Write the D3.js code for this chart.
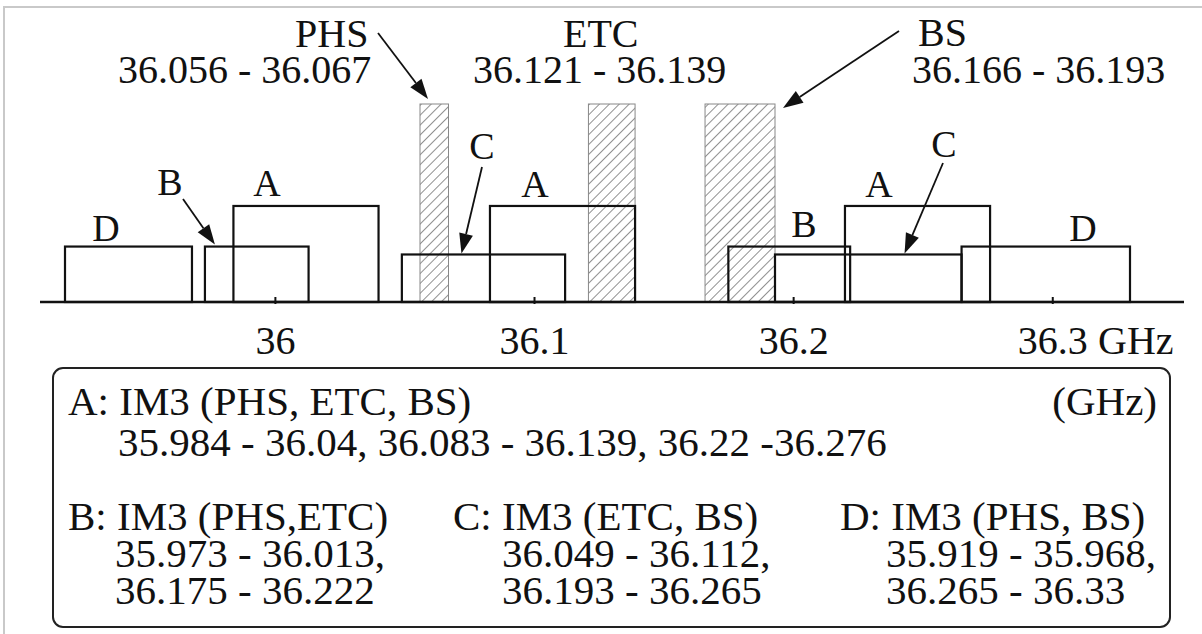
<!DOCTYPE html>
<html>
<head>
<meta charset="utf-8">
<script src="https://cdn.jsdelivr.net/npm/d3@7"></script>
<style>
  html, body { margin: 0; padding: 0; background: #fff; }
  svg { display: block; }
</style>
</head>
<body>
<svg id="chart" width="1202" height="634"></svg>
<script>
// Carrier bands (GHz)
const signalNames = ["PHS", "ETC", "BS"];
const signalLow = [36.056, 36.121, 36.166];
const signalHigh = [36.067, 36.139, 36.193];
const carrierLevel = 100; // relative level of the carriers

// Third-order intermodulation products
const imKeys = ["A", "B", "C", "D"];
const imSources = ["PHS, ETC, BS", "PHS,ETC", "ETC, BS", "PHS, BS"];
const imLevels = [48.5, 28, 24, 28]; // relative level of each product family

const productKey = ["A", "A", "A", "B", "B", "C", "C", "D", "D"];
const productLow = [35.984, 36.083, 36.22, 35.973, 36.175, 36.049, 36.193, 35.919, 36.265];
const productHigh = [36.04, 36.139, 36.276, 36.013, 36.222, 36.112, 36.265, 35.968, 36.33];
const productDash = [" - ", " - ", " -", " - ", " - ", " - ", " - ", " - ", " - "];

// Frequency axis
const tickValues = [36, 36.1, 36.2, 36.3];
const tickLabels = ["36", "36.1", "36.2", "36.3"];
const axisUnit = "GHz";

const FONT = "'Liberation Serif', 'Tinos', 'Times New Roman', 'DejaVu Serif', serif";

const svg = d3.select("#chart")
  .style("font-family", FONT);

const x = d3.scaleLinear()
  .domain([d3.min(productLow), d3.max(productHigh)])
  .range([65, 1130]);
const y = d3.scaleLinear()
  .domain([0, carrierLevel])
  .range([302, 104]);

const levelOf = k => imLevels[imKeys.indexOf(k)];

function label(parent, xp, yp, str, size, anchor) {
  return parent.append("text")
    .attr("x", xp).attr("y", yp)
    .attr("text-anchor", anchor || "start")
    .style("font-family", FONT)
    .style("font-size", size + "px")
    .style("fill", "#111")
    .text(str);
}

// light page frame
svg.append("path")
  .attr("d", "M4,634V7H1202")
  .attr("fill", "none")
  .attr("stroke", "#c9c9c9")
  .attr("stroke-width", 2);

// hatch for carrier bands
const defs = svg.append("defs");
const pat = defs.append("pattern")
  .attr("id", "hatch")
  .attr("patternUnits", "userSpaceOnUse")
  .attr("width", 7)
  .attr("height", 7)
  .attr("patternTransform", "rotate(45)");
pat.append("line")
  .attr("x1", 0).attr("y1", 0).attr("x2", 0).attr("y2", 7)
  .attr("stroke", "#333").attr("stroke-width", 1.1);

// carrier bands
svg.append("g").selectAll("rect")
  .data(signalNames.map((n, i) => ({ n, lo: signalLow[i], hi: signalHigh[i] })))
  .join("rect")
  .attr("x", d => x(d.lo))
  .attr("y", y(carrierLevel))
  .attr("width", d => x(d.hi) - x(d.lo))
  .attr("height", y(0) - y(carrierLevel))
  .attr("fill", "url(#hatch)")
  .attr("stroke", "#888")
  .attr("stroke-width", 1);

// IM3 product bands
svg.append("g").selectAll("rect")
  .data(productKey.map((k, i) => ({ k, lo: productLow[i], hi: productHigh[i] })))
  .join("rect")
  .attr("x", d => x(d.lo))
  .attr("y", d => y(levelOf(d.k)))
  .attr("width", d => x(d.hi) - x(d.lo))
  .attr("height", d => y(0) - y(levelOf(d.k)))
  .attr("fill", "none")
  .attr("stroke", "#111")
  .attr("stroke-width", 2.2);

// baseline
svg.append("line")
  .attr("x1", 40).attr("x2", 1184)
  .attr("y1", y(0)).attr("y2", y(0))
  .attr("stroke", "#111")
  .attr("stroke-width", 2.5);

// axis ticks and labels
const axis = svg.append("g")
  .attr("transform", `translate(0,${y(0)})`)
  .call(d3.axisBottom(x)
    .tickValues(tickValues)
    .tickFormat((d, i) => tickLabels[i])
    .tickSizeInner(-5)
    .tickSizeOuter(0)
    .tickPadding(24));
axis.select(".domain").remove();
axis.attr("font-family", null).attr("font-size", null);
axis.selectAll(".tick line").attr("y1", 2).attr("stroke", "#111").attr("stroke-width", 2);
axis.selectAll(".tick text")
  .style("font-family", FONT)
  .style("font-size", "40px")
  .style("fill", "#111");
label(svg, 1098, 354, axisUnit, 40);

// carrier captions
const captionLayout = [
  { nameX: 295, nameY: 47, rangeX: 118, rangeY: 83 },
  { nameX: 563, nameY: 47, rangeX: 473, rangeY: 83 },
  { nameX: 918, nameY: 46, rangeX: 912, rangeY: 83 }
];
signalNames.forEach((n, i) => {
  const c = captionLayout[i];
  label(svg, c.nameX, c.nameY, n, 40);
  label(svg, c.rangeX, c.rangeY, `${signalLow[i]} - ${signalHigh[i]}`, 40);
});

// letter tags on product bands
const tagLayout = [
  { t: "D", x: 106, y: 241 },
  { t: "B", x: 170, y: 195 },
  { t: "A", x: 267, y: 196 },
  { t: "C", x: 482, y: 159 },
  { t: "A", x: 535, y: 197 },
  { t: "B", x: 804, y: 237 },
  { t: "A", x: 879, y: 197 },
  { t: "C", x: 944, y: 157 },
  { t: "D", x: 1083, y: 241 }
];
const tg = svg.append("g");
tagLayout.forEach(d => label(tg, d.x, d.y, d.t, 38, "middle"));

// arrows: tail point to a tip touching the band
const arrows = [
  { tail: [378, 33],  tip: [x(signalLow[0]) + 8, y(carrierLevel) - 5] },
  { tail: [899, 31],  tip: [x(signalHigh[2]) + 8, y(carrierLevel) + 4] },
  { tail: [183, 199], tip: [x(productLow[3]) + 10, y(levelOf("B")) - 2] },
  { tail: [482, 167], tip: [x(36.072), y(levelOf("C")) - 1] },
  { tail: [943, 163], tip: [x(36.243), y(levelOf("C")) - 1] }
];
const headLen = 20, headHalf = 7;
const ag = svg.append("g");
arrows.forEach(a => {
  const [x0, y0] = a.tail, [x1, y1] = a.tip;
  const len = Math.hypot(x1 - x0, y1 - y0);
  const ux = (x1 - x0) / len, uy = (y1 - y0) / len;
  const bx = x1 - ux * headLen, by = y1 - uy * headLen;
  ag.append("line")
    .attr("x1", x0).attr("y1", y0).attr("x2", bx).attr("y2", by)
    .attr("stroke", "#111").attr("stroke-width", 1.8);
  ag.append("path")
    .attr("d", `M${x1},${y1}L${bx - uy * headHalf},${by + ux * headHalf}L${bx + uy * headHalf},${by - ux * headHalf}Z`)
    .attr("fill", "#111");
});

// legend box
svg.append("rect")
  .attr("x", 53).attr("y", 368)
  .attr("width", 1117).attr("height", 259)
  .attr("rx", 10).attr("ry", 10)
  .attr("fill", "none")
  .attr("stroke", "#222")
  .attr("stroke-width", 2);

const rangeText = i => `${productLow[i]}${productDash[i]}${productHigh[i]}`;
const idxOf = k => productKey.map((p, i) => p === k ? i : -1).filter(i => i >= 0);
const lg = svg.append("g");

// family A spans the full width
label(lg, 68, 415, `${imKeys[0]}: IM3 (${imSources[0]})`, 41);
label(lg, 118, 456, idxOf("A").map(rangeText).join(", "), 41);
label(lg, 1157, 415, `(${axisUnit})`, 41, "end");

// families B, C, D in columns
const colTitleX = [68, 453, 840];
const colRangeX = [115, 502, 886];
imKeys.slice(1).forEach((k, c) => {
  const fam = imKeys.indexOf(k);
  label(lg, colTitleX[c], 530, `${k}: IM3 (${imSources[fam]})`, 41);
  const idx = idxOf(k);
  label(lg, colRangeX[c], 567, rangeText(idx[0]) + ",", 41);
  label(lg, colRangeX[c], 604, rangeText(idx[1]), 41);
});
</script>
</body>
</html>
